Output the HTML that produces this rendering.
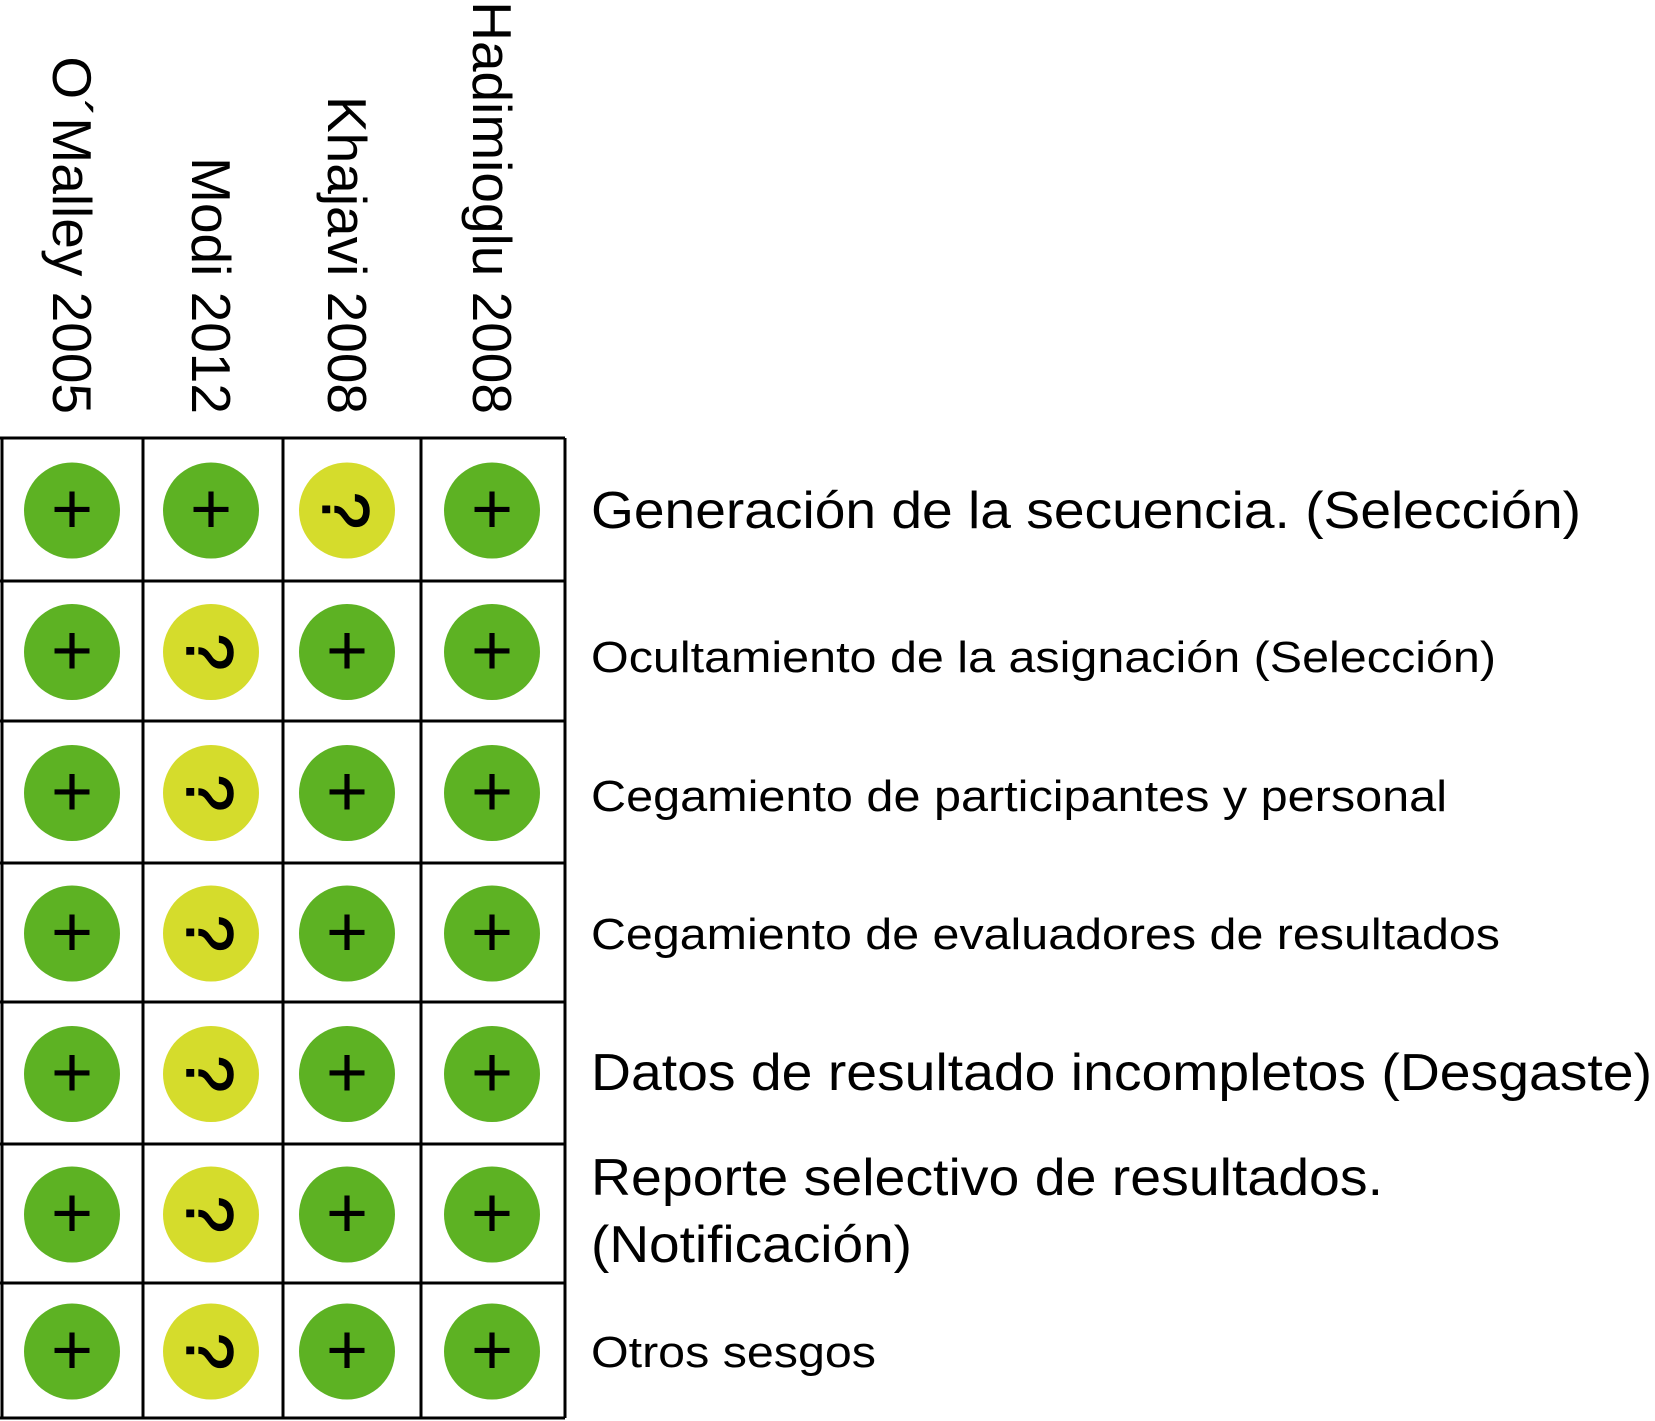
<!DOCTYPE html>
<html><head><meta charset="utf-8"><style>
html,body{margin:0;padding:0;background:#fff;}
svg{display:block;font-family:"Liberation Sans",Arial,sans-serif;}
</style></head>
<body>
<svg id="chart" width="1655" height="1421" viewBox="0 0 1655 1421" xmlns="http://www.w3.org/2000/svg">
<rect width="1655" height="1421" fill="#fff"/>
<g id="grid"></g>
<g id="marks"></g>
<g id="headers"></g>
<g id="labels"></g>
</svg>
<script>
const studies = ["O´Malley 2005","Modi 2012","Khajavi 2008","Hadimioglu 2008"];
const domains = [
  ["Generación de la secuencia. (Selección)"],
  ["Ocultamiento de la asignación (Selección)"],
  ["Cegamiento de participantes y personal"],
  ["Cegamiento de evaluadores de resultados"],
  ["Datos de resultado incompletos (Desgaste)"],
  ["Reporte selectivo de resultados.","(Notificación)"],
  ["Otros sesgos"]
];
const judgOMalley = ["+","+","+","+","+","+","+"];
const judgModi = ["+","?","?","?","?","?","?"];
const judgKhajavi = ["?","+","+","+","+","+","+"];
const judgHadimioglu = ["+","+","+","+","+","+","+"];
const judgements = [judgOMalley, judgModi, judgKhajavi, judgHadimioglu];

const NS="http://www.w3.org/2000/svg";
const colEdges=[0,143,283,421,565];
const colCenters=[72,211,347,492];
const rowEdges=[438,581,721,863,1002,1144,1283,1418];
const colX=i=>colCenters[i];
const rowY=j=>(rowEdges[j]+rowEdges[j+1])/2+1;
function mk(tag,attrs,parent){const e=document.createElementNS(NS,tag);for(const k in attrs)e.setAttribute(k,attrs[k]);parent.appendChild(e);return e;}
const grid=document.getElementById('grid'),marks=document.getElementById('marks'),headers=document.getElementById('headers'),labels=document.getElementById('labels');

colEdges.forEach((x,i)=>{const l=mk('line',{x1:Math.max(x,2),x2:Math.max(x,2),y1:rowEdges[0],y2:rowEdges[rowEdges.length-1],stroke:'#000','stroke-width':3},grid);

});
rowEdges.forEach((y,i)=>{const l=mk('line',{x1:0,x2:565,y1:Math.min(y,1418),y2:Math.min(y,1418),stroke:'#000','stroke-width':3},grid);

});

studies.forEach((s,i)=>{
  const x=colX(i);
  const t=mk('text',{x:0,y:0,'font-size':55,'text-anchor':'end',transform:`translate(${x-19},414) rotate(90)`},headers);
  t.textContent=s;
  
  
  judgements[i].forEach((v,j)=>{
    const y=rowY(j);
    const c=mk('circle',{cx:x,cy:y,r:48,fill:v==='+'?'#5db223':'#d5dc2c'},marks);
    
    
    if(v==='+'){
      const t2=mk('text',{x:x,y:y+23,'font-size':72,'text-anchor':'middle',fill:'#000'},marks);
      t2.textContent='+';
      
      
    } else {
      const t2=mk('text',{x:0,y:0,'font-size':66,'text-anchor':'middle',fill:'#000','stroke':'#000','stroke-width':1.5,transform:`translate(${x-24},${y}) rotate(90)`},marks);
      t2.textContent='?';
      
      
    }
  });
});

const labelBase=[[528],[672],[811],[949],[1090],[1195,1262],[1367]];
const labelSize=[52,44,44,44,52,52,44];
const labelLen=[[990],[905],[856],[909],[1061],[792,321],[285]];
domains.forEach((lines,j)=>{
  lines.forEach((ln,k)=>{
    const t=mk('text',{x:591,y:labelBase[j][k],'font-size':labelSize[j],textLength:labelLen[j][k],lengthAdjust:'spacingAndGlyphs',fill:'#000'},labels);
    t.textContent=ln;
    
    
  });
});
</script>
</body></html>
